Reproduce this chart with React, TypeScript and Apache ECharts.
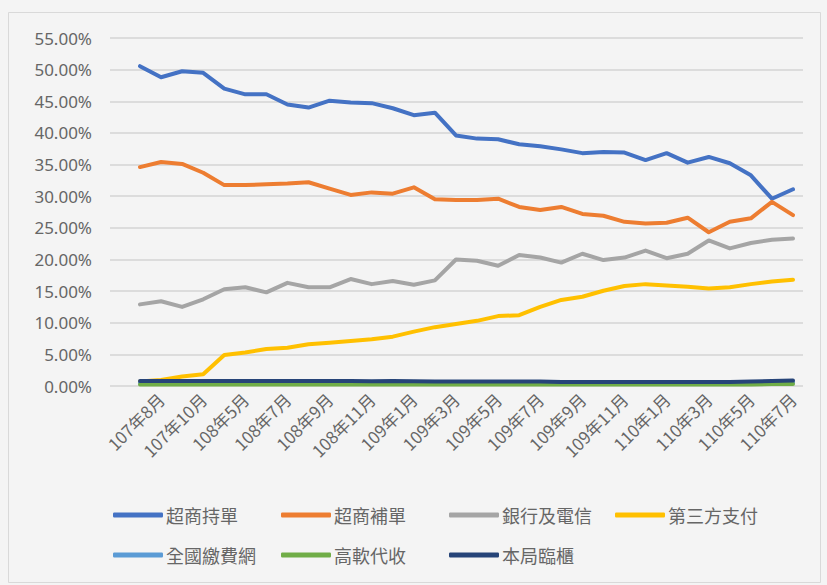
import React, { useEffect, useRef } from "react";
import * as echarts from "echarts";

const categories = [
  "107年7月", "107年8月", "107年9月", "107年10月", "108年4月", "108年5月", "108年6月", "108年7月",
  "108年8月", "108年9月", "108年10月", "108年11月", "108年12月", "109年1月", "109年2月", "109年3月",
  "109年4月", "109年5月", "109年6月", "109年7月", "109年8月", "109年9月", "109年10月", "109年11月",
  "109年12月", "110年1月", "110年2月", "110年3月", "110年4月", "110年5月", "110年6月", "110年7月",
];

const superStore = [50.55, 48.8, 49.75, 49.5, 47.0, 46.1, 46.1, 44.5, 44.0, 45.1, 44.8, 44.7, 43.9, 42.8, 43.2, 39.6,
  39.1, 39.0, 38.2, 37.9, 37.4, 36.8, 37.0, 36.9, 35.7, 36.8, 35.3, 36.2, 35.2, 33.3, 29.6, 31.1];
const superStoreReissue = [34.6, 35.4, 35.1, 33.7, 31.75, 31.75, 31.9, 32.0, 32.2, 31.2, 30.2, 30.6, 30.4, 31.4, 29.5, 29.4,
  29.4, 29.6, 28.3, 27.8, 28.3, 27.2, 26.9, 25.95, 25.7, 25.8, 26.6, 24.3, 25.95, 26.5, 29.1, 27.0];
const bankTelecom = [12.9, 13.4, 12.5, 13.7, 15.3, 15.6, 14.8, 16.3, 15.6, 15.6, 16.9, 16.1, 16.6, 16.0, 16.7, 20.0,
  19.8, 19.0, 20.7, 20.3, 19.5, 20.9, 19.9, 20.3, 21.4, 20.2, 20.9, 23.0, 21.75, 22.6, 23.1, 23.3];
const thirdParty = [0.7, 0.95, 1.5, 1.85, 4.9, 5.3, 5.85, 6.05, 6.6, 6.85, 7.1, 7.4, 7.8, 8.6, 9.3, 9.8,
  10.3, 11.05, 11.2, 12.5, 13.6, 14.1, 15.05, 15.8, 16.1, 15.9, 15.7, 15.4, 15.6, 16.1, 16.5, 16.8];
const nationalPay = [0.5, 0.5, 0.5, 0.5, 0.5, 0.5, 0.5, 0.5, 0.5, 0.5, 0.5, 0.5, 0.45, 0.45, 0.45, 0.45,
  0.45, 0.45, 0.45, 0.4, 0.4, 0.4, 0.4, 0.4, 0.4, 0.4, 0.4, 0.4, 0.4, 0.45, 0.5, 0.5];
const highSoft = [0.25, 0.25, 0.25, 0.25, 0.25, 0.25, 0.25, 0.25, 0.25, 0.25, 0.25, 0.25, 0.25, 0.25, 0.25, 0.25,
  0.25, 0.25, 0.25, 0.25, 0.25, 0.25, 0.25, 0.25, 0.25, 0.25, 0.25, 0.25, 0.25, 0.25, 0.3, 0.3];
const postCounter = [0.8, 0.8, 0.8, 0.8, 0.8, 0.8, 0.8, 0.8, 0.8, 0.8, 0.8, 0.75, 0.8, 0.75, 0.7, 0.7,
  0.7, 0.7, 0.7, 0.7, 0.65, 0.65, 0.65, 0.65, 0.65, 0.65, 0.65, 0.65, 0.65, 0.7, 0.8, 0.85];

const seriesNames = ["超商持單", "超商補單", "銀行及電信", "第三方支付", "全國繳費網", "高軟代收", "本局臨櫃"];
const seriesData = [superStore, superStoreReissue, bankTelecom, thirdParty, nationalPay, highSoft, postCounter];
const colors = ["#4472C4", "#ED7D31", "#A5A5A5", "#FFC000", "#5B9BD5", "#70AD47", "#264478"];

const yTicksMax = 55;
const yInterval = 5;

const legendPos = [
  [113, 506], [281, 506], [449, 506], [615, 506],
  [113, 546], [281, 546], [449, 546],
];

export default function App() {
  const ref = useRef<HTMLDivElement>(null);
  useEffect(() => {
    if (!ref.current) return;
    const chart = echarts.init(ref.current, undefined, { renderer: "svg" });
    const textColor = "#666666";
    const font = "'Noto Sans CJK TC', 'Noto Sans', sans-serif";
    chart.setOption({
      animation: false,
      backgroundColor: "#f4f4f4",
      color: colors,
      graphic: [
        {
          type: "rect",
          shape: { x: 8.5, y: 12.5, width: 812, height: 570 },
          style: { fill: "none", stroke: "#d9d9d9", lineWidth: 1 },
          silent: true,
        },
      ],
      grid: [
        { left: 140, right: 34, top: 38, bottom: 199 },
        { left: 110, right: 24, top: 38, bottom: 199 },
      ],
      xAxis: [
        {
          type: "category",
          gridIndex: 0,
          data: categories,
          boundaryGap: false,
          axisLine: { show: false },
          axisTick: { show: false },
          axisLabel: {
            interval: (index: number) => index % 2 === 1,
            rotate: 45,
            margin: 10,
            color: textColor,
            fontSize: 17,
            fontFamily: font,
          },
        },
        { type: "value", gridIndex: 1, min: 0, max: 1, show: false },
      ],
      yAxis: [
        { type: "value", gridIndex: 0, min: 0, max: yTicksMax, interval: yInterval, show: false },
        {
          type: "value",
          gridIndex: 1,
          min: 0,
          max: yTicksMax,
          interval: yInterval,
          axisLine: { show: false },
          axisTick: { show: false },
          splitLine: { lineStyle: { color: "#d4d4d4", width: 1.5 } },
          axisLabel: {
            formatter: (v: number) => v.toFixed(2) + "%",
            color: textColor,
            fontSize: 17,
            margin: 18,
            fontFamily: "'Noto Sans', sans-serif",
          },
        },
      ],
      legend: seriesNames.map((name, i) => ({
        data: [name],
        left: legendPos[i][0],
        top: legendPos[i][1],
        icon: "roundRect",
        itemWidth: 50,
        itemHeight: 5,
        itemGap: 0,
        textStyle: { color: textColor, fontSize: 18, fontFamily: font, padding: [0, 0, 0, -2] },
        padding: 0,
      })),
      series: seriesNames.map((name, i) => ({
        name,
        type: "line",
        xAxisIndex: 0,
        yAxisIndex: 0,
        data: seriesData[i],
        showSymbol: false,
        symbol: "none",
        lineStyle: { width: 4, color: colors[i], cap: "round", join: "round" },
        itemStyle: { color: colors[i] },
      })),
    });
    return () => chart.dispose();
  }, []);
  return (
    <div
      ref={ref}
      style={{ position: "fixed", left: 0, top: 0, width: 827, height: 585 }}
    />
  );
}
